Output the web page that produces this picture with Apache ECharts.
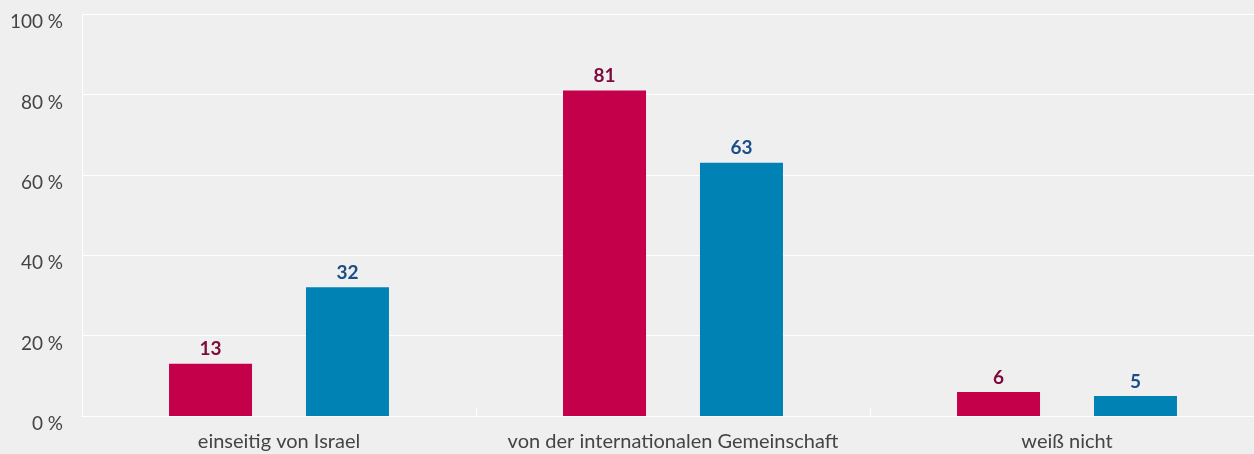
<!DOCTYPE html>
<html>
<head>
<meta charset="utf-8">
<script src="https://cdn.jsdelivr.net/npm/echarts@6/dist/echarts.min.js"></script>
<style>
  html, body { margin: 0; padding: 0; background: #efefef; overflow: hidden; }
  #chart { width: 1264px; height: 454px; }
</style>
</head>
<body>
<div id="chart"></div>
<script>
const categories = ['einseitig von Israel', 'von der internationalen Gemeinschaft', 'weiß nicht']
const redValues = [13, 81, 6]
const blueValues = [32, 63, 5]
const yTicks = [0, 20, 40, 60, 80, 100]

const chart = echarts.init(document.getElementById('chart'))

const font = 'Lato, "Open Sans", sans-serif'

const option = {
  backgroundColor: '#efefef',
  animation: false,
  grid: { left: 82, right: 0, top: 14, bottom: 38 },
  xAxis: {
    type: 'category',
    data: categories,
    axisLine: { lineStyle: { color: '#ffffff', width: 1 } },
    axisTick: { show: true, inside: true, length: 8, lineStyle: { color: '#ffffff' } },
    axisLabel: { color: '#444444', fontSize: 20, fontFamily: font, margin: 16, interval: 0 }
  },
  yAxis: {
    type: 'value',
    min: yTicks[0],
    max: yTicks[yTicks.length - 1],
    interval: 20,
    axisLine: { show: true, lineStyle: { color: '#ffffff' } },
    axisTick: { show: false },
    splitLine: { lineStyle: { color: '#ffffff', width: 1 } },
    axisLabel: {
      color: '#444444',
      fontSize: 19,
      fontFamily: font,
      margin: 19,
      verticalAlign: 'top',
      lineHeight: 16,
      formatter: (v) => v + '\u202f%'
    }
  },
  series: [
    {
      type: 'bar',
      data: redValues,
      barWidth: 83,
      barGap: '65%',
      itemStyle: { color: '#c4004a' },
      label: {
        show: true,
        position: 'top',
        distance: 5,
        color: '#7d0a3b',
        fontWeight: 'bold',
        fontSize: 19,
        fontFamily: font
      }
    },
    {
      type: 'bar',
      data: blueValues,
      barWidth: 83,
      itemStyle: { color: '#0082b4' },
      label: {
        show: true,
        position: 'top',
        distance: 5,
        color: '#1b4e86',
        fontWeight: 'bold',
        fontSize: 19,
        fontFamily: font
      }
    }
  ]
}

chart.setOption(option)
</script>
</body>
</html>
